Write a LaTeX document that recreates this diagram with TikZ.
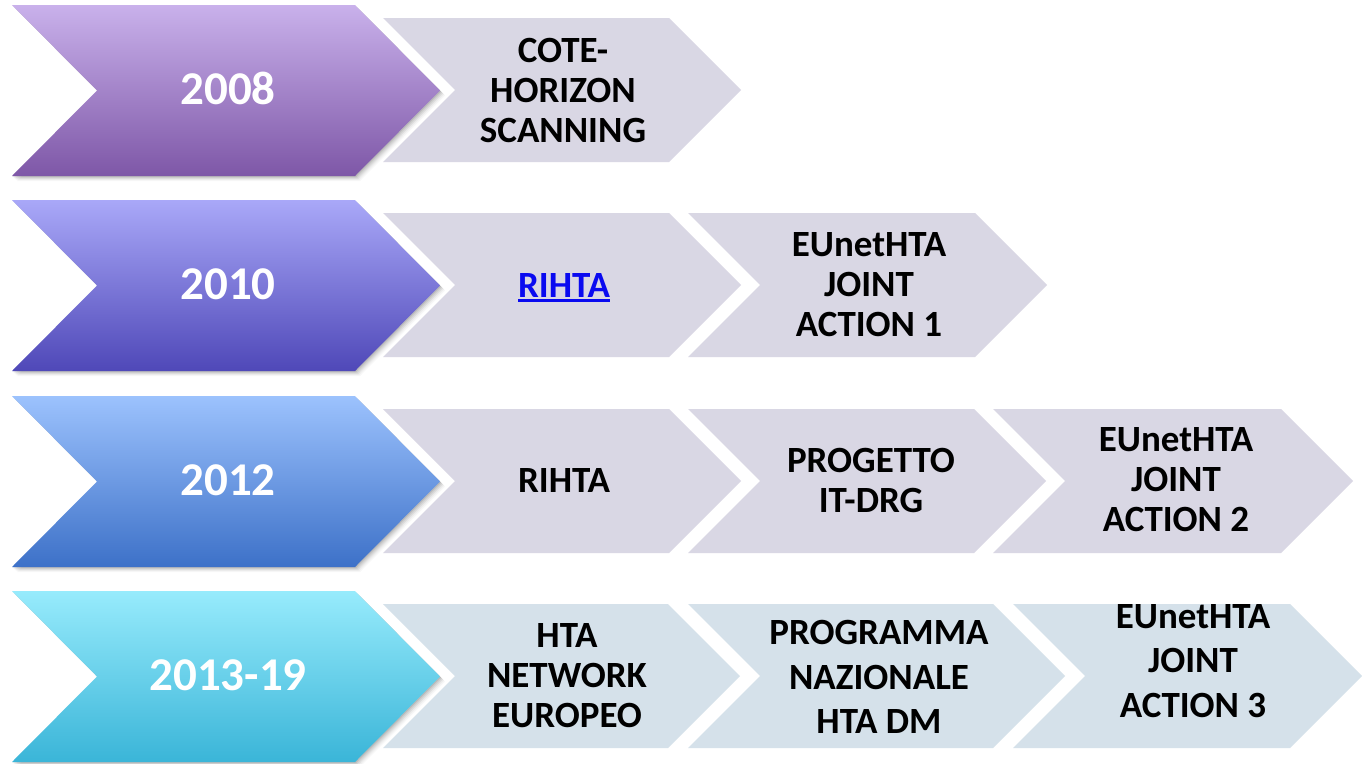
\documentclass[tikz,border=0pt]{standalone}
\usepackage{fontspec}
\setmainfont{Carlito}
\definecolor{aTop}{HTML}{C9B1EB}\definecolor{aBot}{HTML}{7E57A7}
\definecolor{bTop}{HTML}{A9A8F8}\definecolor{bBot}{HTML}{4F48B8}
\definecolor{cTop}{HTML}{9CC2FD}\definecolor{cBot}{HTML}{3D71C8}
\definecolor{dTop}{HTML}{97EBFC}\definecolor{dBot}{HTML}{3AB5D8}
\definecolor{grayFill}{HTML}{D9D7E4}
\definecolor{blueFill}{HTML}{D5E1EA}
\definecolor{linkBlue}{HTML}{0A0AF0}
\newcommand\bigchev[3]{%
  \foreach \o/\a in {1/0.09,2/0.07,3/0.06,4/0.04,5/0.03}{%
    \fill[black,opacity=\a,shift={(\o,\o)}] (12,#1) -- (355,#1) -- (440,#1+85.5) -- (355,#1+171) -- (12,#1+171) -- (97,#1+85.5) -- cycle;}%
  \shade[top color=#2,bottom color=#3] (12,#1) -- (355,#1) -- (440,#1+85.5) -- (355,#1+171) -- (12,#1+171) -- (97,#1+85.5) -- cycle;}
\newcommand\smallchev[4]{%
  \fill[#4] (#1,#2) -- (#1+#3-72,#2) -- (#1+#3,#2+72) -- (#1+#3-72,#2+144) -- (#1,#2+144) -- (#1+72,#2+72) -- cycle;}
\newcommand\ulnk[1]{\setbox0=\hbox{#1}\rlap{\smash{\rule[-5pt]{\wd0}{2.6pt}}}\box0}
\tikzset{
  yeartxt/.style={text=white,font=\fontsize{47}{56}\selectfont\bfseries,align=center,inner sep=0pt},
  itemtxt/.style={text=black,font=\fontsize{37}{40}\selectfont\bfseries,align=center,inner sep=0pt},
  itemwide/.style={text=black,font=\fontsize{37}{44.5}\selectfont\bfseries,align=center,inner sep=0pt},
  linktxt/.style={itemtxt,text=linkBlue}
}
\begin{document}
\begin{tikzpicture}[x=1pt,y=-1pt]
\useasboundingbox (0,0) rectangle (1362,763);
\fill[white] (0,0) rectangle (1362,763);
% row 1
\bigchev{5}{aTop}{aBot}
\smallchev{383}{18}{358}{grayFill}
% row 2
\bigchev{200}{bTop}{bBot}
\smallchev{383}{213}{358}{grayFill}
\smallchev{688}{213}{359}{grayFill}
% row 3
\bigchev{396}{cTop}{cBot}
\smallchev{383}{409}{358}{grayFill}
\smallchev{688}{409}{358}{grayFill}
\smallchev{993}{409}{360}{grayFill}
% row 4
\bigchev{591}{dTop}{dBot}
\smallchev{383}{604}{357}{blueFill}
\smallchev{688}{604}{377}{blueFill}
\smallchev{1013}{604}{349}{blueFill}
% texts
\node[yeartxt] (y1) at (228,88) {2008};
\node[yeartxt] (y2) at (228,284) {2010};
\node[yeartxt] (y3) at (228,480) {2012};
\node[yeartxt] (y4) at (228,675) {2013-19};
\node[itemtxt] (a1) at (563,90) {COTE-\\HORIZON\\SCANNING};
\node[linktxt] (b1) at (564,285) {\ulnk{RIHTA}};
\node[itemtxt] (b2) at (869,285) {EUnetHTA\\JOINT\\ACTION 1};
\node[itemtxt] (c1) at (564,480) {RIHTA};
\node[itemtxt] (c2) at (871,480) {PROGETTO\\IT-DRG};
\node[itemtxt] (c3) at (1176,480) {EUnetHTA\\JOINT\\ACTION 2};
\node[itemtxt] (d1) at (567,676) {HTA\\NETWORK\\EUROPEO};
\node[itemwide] (d2) at (879,677) {PROGRAMMA\\NAZIONALE\\HTA DM};
\node[itemwide] (d3) at (1193,661) {EUnetHTA\\JOINT\\ACTION 3};
\end{tikzpicture}
\end{document}
